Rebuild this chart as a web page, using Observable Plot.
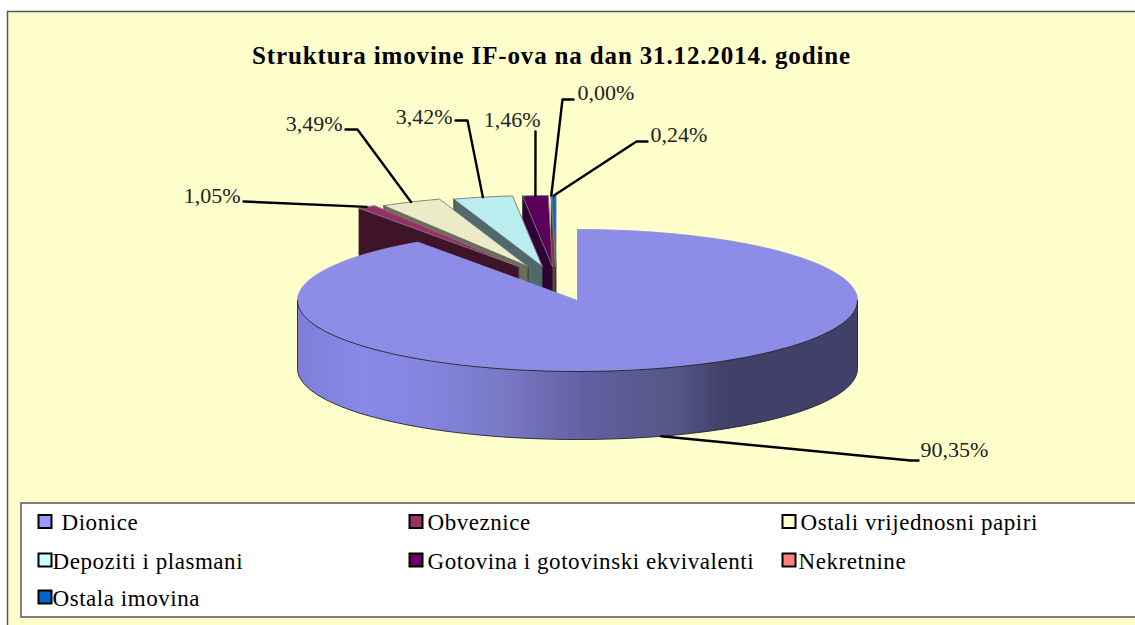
<!DOCTYPE html>
<html>
<head>
<meta charset="utf-8">
<script src="https://cdn.jsdelivr.net/npm/d3@7"></script>
<script src="https://cdn.jsdelivr.net/npm/@observablehq/plot@0.6"></script>
<style>
html,body{margin:0;padding:0;background:#fff}
svg{display:block}
g[font-size="25"]{letter-spacing:.85px}
g[font-size="23"]{letter-spacing:.55px}
</style>
</head>
<body>
<div id="chart"></div>
<script>
// ---- data ----
const categories = ["Dionice","Obveznice","Ostali vrijednosni papiri","Depoziti i plasmani","Gotovina i gotovinski ekvivalenti","Nekretnine","Ostala imovina"];
const shares = [90.35,1.05,3.49,3.42,1.46,0.00,0.24];
const shareLabels = ["90,35%","1,05%","3,49%","3,42%","1,46%","0,00%","0,24%"];
const legendColors = ["#9999ff","#993366","#ffffcc","#ccffff","#660066","#ff8080","#0066cc"];
const topColors = ["#8d8de8","#9a2f68","#ecebc8","#b9edf0","#5a005c","#e87878","#0066cc"];
const sideColors = ["url(#rim)","#3f1428","#6e6e58","#50696d","#2f0038","#7a3838","#00305f"];
const chartTitle = "Struktura imovine IF-ova na dan 31.12.2014. godine";

// ---- layout ----
const W = 1135, H = 625;
const cx = 577, cy = 300, rx = 280, ry = 71, depth = 68;
const liftY = -34;                        // exploded slices sit higher
const shift = m => -21 + 1.15 * m;        // exploded sideways shift by mid angle (deg)
const labelPos = [[920,449,"start"],[240,195,"end"],[342,123,"end"],[452,116,"end"],[540,119,"end"],[577,92,"start"],[650,134,"start"]];
const elbows = [[[910,460],[918,460]],[[243,201]],[[357,129],[345,129]],[[467,120],[455,120]],[[535,131]],[[562,99],[573,99]],[[636,141],[647,141]]];
const legendCells = [[38.5,61,522,521.5],[409.5,427,522,521.5],[782.5,800,522,521.5],[38.5,52,561,560],[409.5,427,561,560],[782.5,798,561,560],[38.5,52,598,597]];

const rad = d => d * Math.PI / 180;
const total = d3.sum(shares);
let acc = 0;
const slices = shares.map((v,i) => {
  const a0 = acc / total * 360; acc += v; const a1 = acc / total * 360;
  const exploded = i > 0;
  const mid = (a0 + a1) / 2 - 360;
  const ax = exploded ? cx + shift(mid) : cx;
  const ay = exploded ? cy + liftY : cy;
  return {i, a0, a1, ax, ay, exploded};
});
const rimPt = (s,a,dy=0) => ({x: s.ax + rx*Math.sin(rad(a)), y: s.ay - ry*Math.cos(rad(a)) + dy});
const arc = (s,a,b,dy=0) => { const n = Math.max(2,Math.ceil(Math.abs(b-a)/2)); return d3.range(n+1).map(k => rimPt(s,a+(b-a)*k/n,dy)); };
const closed = pts => [...pts, pts[0]];

function topFace(s){ const apex={x:s.ax,y:s.ay}; return closed([apex,...arc(s,s.a0,s.a1)]); }
function leftFace(s){ const o=rimPt(s,s.a0), apex={x:s.ax,y:s.ay};
  return closed([o,apex,{x:apex.x,y:apex.y+depth},{x:o.x,y:o.y+depth}]); }
function rimFace(s){ return closed([...arc(s,90,270),...arc(s,270,90,depth)]); }

const polys = [];
for (const s of [...slices].reverse()) {
  if (!s.exploded) continue;
  polys.push({pts:leftFace(s),fill:sideColors[s.i],stroke:"#333"});
  polys.push({pts:topFace(s),fill:topColors[s.i],stroke:"#777"});
}
polys.push({pts:topFace(slices[0]),fill:topColors[0],stroke:"#8d8de8"});
polys.push({pts:rimFace(slices[0]),fill:sideColors[0],stroke:"#222"});

const leaders = slices.map(s => {
  const mid=(s.a0+s.a1)/2;
  const start = s.exploded ? rimPt(s,mid) : rimPt(s,mid,depth);
  return [start,...elbows[s.i].map(([x,y])=>({x,y}))];
});
const legendRows = categories.map((c,i)=>({c,color:legendColors[i],sx:legendCells[i][0],tx:legendCells[i][1],y:legendCells[i][2],sy:legendCells[i][3]}));
const labelRows = shareLabels.map((t,i)=>({t,x:labelPos[i][0],y:labelPos[i][1],anchor:labelPos[i][2]}));
const box = (x1,y1,x2,y2)=>[{x1,y1,x2,y2}];

const defs = () => {
  const d = d3.create("svg:defs");
  const g = d.append("linearGradient").attr("id","rim").attr("x1",0).attr("x2",1).attr("y1",0).attr("y2",0);
  [[0,"#7e7ed8"],[0.11,"#8888e8"],[0.22,"#8585e0"],[0.36,"#7a7ac8"],[0.52,"#6060a0"],[0.68,"#555585"],[0.76,"#404068"],[1,"#40406a"]]
    .forEach(([o,c])=>g.append("stop").attr("offset",o).attr("stop-color",c));
  return d.node();
};

const serif = "'Liberation Serif','Times New Roman',serif";
const plot = Plot.plot({
  width:W,height:H,margin:0,
  style:{background:"#fff",fontFamily:serif},
  x:{domain:[0,W],range:[0,W],axis:null},
  y:{domain:[0,H],range:[0,H],axis:null},
  color:{type:"identity"},
  marks:[
    defs,
    Plot.rect(box(7.5,11.5,W+10,H+10),{x1:"x1",x2:"x2",y1:"y1",y2:"y2",fill:"#ffffcc",stroke:"#555",strokeWidth:1.5}),
    Plot.text([chartTitle],{x:551,y:55,text:d=>d,fontSize:25,fontWeight:"bold",fill:"#000",textAnchor:"middle"}),
    ...polys.map(p=>Plot.line(p.pts,{x:"x",y:"y",fill:p.fill,stroke:p.stroke,strokeWidth:0.9})),
    ...leaders.map(l=>Plot.line(l,{x:"x",y:"y",stroke:"#000",strokeWidth:2.4})),
    ...["start","end"].map(a=>Plot.text(labelRows.filter(d=>d.anchor===a),{x:"x",y:"y",text:"t",textAnchor:a,fontSize:22,fill:"#222"})),
    Plot.rect(box(21,503,W+10,617),{x1:"x1",x2:"x2",y1:"y1",y2:"y2",fill:"#fff",stroke:"#555",strokeWidth:1.5}),
    Plot.rect(legendRows,{x1:"sx",x2:d=>d.sx+13,y1:d=>d.sy-6.5,y2:d=>d.sy+6.5,fill:"color",stroke:"#000",strokeWidth:2}),
    Plot.text(legendRows,{x:"tx",y:"y",text:"c",textAnchor:"start",fontSize:23,fill:"#000"})
  ]
});
document.getElementById("chart").append(plot);
</script>
</body>
</html>
